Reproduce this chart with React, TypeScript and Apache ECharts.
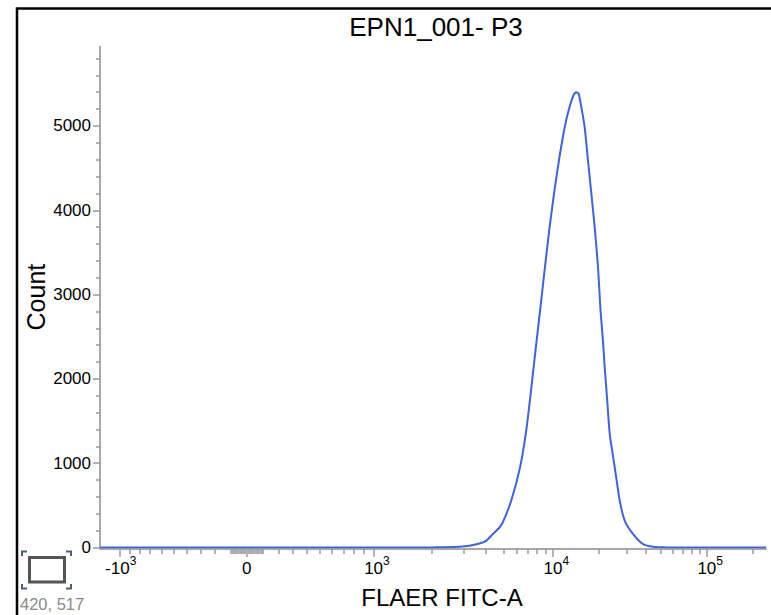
import React, { useEffect, useRef } from 'react';
import * as echarts from 'echarts';

// ---- chart texts ----
const titleText = 'EPN1_001- P3';
const xAxisName = 'FLAER FITC-A';
const yAxisName = 'Count';
const cursorText = '420, 517';

// ---- biexponential display scale (value -> display units) ----
const scaleKnotValues = [0, 200, 300, 400, 500, 600, 700, 800, 900, 1000, 2000, 5000, 10000, 100000];
const scaleKnotUnits = [0, 0.2534, 0.366, 0.474, 0.576, 0.672, 0.763, 0.848, 0.927, 1, 1.4624, 2.027, 2.4173, 3.6318];

// ---- axis ticks ----
const xMajorTicks = [-1000, 0, 1000, 10000, 100000];
const xMajorLabels = ['-10^3', '0', '10^3', '10^4', '10^5'];
const xMinorTicks = [
  -900, -800, -700, -600, -500, -400, -300, -200,
  -100, -90, -80, -70, -60, -50, -40, -30, -20, -10, 10, 20, 30, 40, 50, 60, 70, 80, 90, 100,
  200, 300, 400, 500, 600, 700, 800, 900,
  2000, 3000, 4000, 5000, 6000, 7000, 8000, 9000,
  20000, 30000, 40000, 50000, 60000, 70000, 80000, 90000, 200000,
];
const xRange = [-1270, 243000];
const yMajorTicks = [0, 1000, 2000, 3000, 4000, 5000];
const yMinorTicks = [200, 400, 600, 800, 1200, 1400, 1600, 1800, 2200, 2400, 2600, 2800, 3200, 3400, 3600, 3800, 4200, 4400, 4600, 4800, 5200, 5400, 5600, 5800];
const yMax = 5940;

// ---- histogram ----
const fluorescence = [-1270, -1000, -600, -200, 0, 200, 600, 1000, 1500, 2000, 2197, 2840, 3230, 3673, 4000, 4357, 4749, 4955, 5570, 6305, 6831, 7238, 7625, 8041, 8482, 8937, 9546, 10228, 11024, 11919, 12850, 13646, 14168, 14710, 15388, 16097, 16912, 17796, 18700, 19654, 20370, 20990, 21727, 22560, 23420, 25250, 27210, 29340, 33230, 38610, 44860, 53480, 70000, 100000, 150000, 243000];
const counts = [0, 0, 0, 0, 0, 0, 0, 0, 0, 1, 3, 10, 20, 47, 79, 159, 237, 297, 554, 949, 1345, 1740, 2135, 2531, 2926, 3321, 3796, 4231, 4626, 4982, 5230, 5370, 5400, 5380, 5200, 4982, 4587, 4192, 3796, 3321, 2828, 2531, 2135, 1740, 1345, 949, 554, 317, 159, 40, 8, 2, 0, 0, 0, 0];

function toDisplay(v: number): number {
  const s = v < 0 ? -1 : 1;
  const a = Math.abs(v);
  const kv = scaleKnotValues;
  const ku = scaleKnotUnits;
  const n = kv.length;
  let i = 0;
  while (i < n - 2 && a > kv[i + 1]) i++;
  const v0 = kv[i], v1 = kv[i + 1], u0 = ku[i], u1 = ku[i + 1];
  let f: number;
  if (v0 >= 1000) f = (Math.log10(a) - Math.log10(v0)) / (Math.log10(v1) - Math.log10(v0));
  else f = (a - v0) / (v1 - v0);
  return s * (u0 + f * (u1 - u0));
}

const FONT = '"Liberation Sans", Arial, Helvetica, sans-serif';
const AXIS_GRAY = '#a8a8a8';
const TICK_GRAY = '#9a9a9a';

function buildOption() {
  const majorT = xMajorTicks.map(toDisplay);
  const labelFor = (val: number) => {
    let best = 0;
    let bd = Infinity;
    majorT.forEach((t, i) => {
      const d = Math.abs(t - val);
      if (d < bd) { bd = d; best = i; }
    });
    const lab = xMajorLabels[best];
    if (lab.indexOf('^') < 0) return `{z|${lab}}`;
    const [base, exp] = lab.split('^');
    if (base.startsWith('-')) return `{n|${base}}{s|${exp}}`;
    return `{b|${base}}{s|${exp}}`;
  };
  const xMin = toDisplay(xRange[0]);
  const xMax = toDisplay(xRange[1]);
  const data = fluorescence.map((v, i) => [toDisplay(v), counts[i]]);

  return {
    animation: false,
    backgroundColor: '#ffffff',
    textStyle: { fontFamily: FONT },
    grid: { left: 100, right: 5, top: 46.7, bottom: 67.5, containLabel: false },
    xAxis: [
      {
        type: 'value',
        min: xMin,
        max: xMax,
        position: 'bottom',
        offset: 1.5,
        name: xAxisName,
        nameLocation: 'middle',
        nameGap: 36,
        nameTextStyle: { fontSize: 24, color: '#000', fontFamily: FONT, padding: [0, 0, 0, 18] },
        axisLine: { show: true, onZero: false, lineStyle: { color: AXIS_GRAY, width: 2 } },
        axisTick: { show: true, inside: false, length: 8, customValues: majorT, lineStyle: { color: TICK_GRAY, width: 1.5 } },
        axisLabel: {
          show: true,
          customValues: majorT,
          margin: 6,
          color: '#000',
          formatter: (val: number) => labelFor(val),
          rich: {
            b: { fontSize: 17, lineHeight: 22, verticalAlign: 'bottom', padding: [0, 0, 0, 7], color: '#000', fontFamily: FONT },
            n: { fontSize: 17, lineHeight: 22, verticalAlign: 'bottom', padding: [0, 0, 0, 1], color: '#000', fontFamily: FONT },
            z: { fontSize: 17, lineHeight: 22, verticalAlign: 'bottom', color: '#000', fontFamily: FONT },
            s: { fontSize: 12, lineHeight: 12, verticalAlign: 'top', color: '#000', fontFamily: FONT },
          },
        },
        splitLine: { show: false },
      },
      {
        type: 'value',
        min: xMin,
        max: xMax,
        position: 'bottom',
        offset: 1.5,
        axisLine: { show: false, onZero: false },
        axisTick: { show: true, inside: false, length: 5, customValues: xMinorTicks.map(toDisplay), lineStyle: { color: TICK_GRAY, width: 1.5 } },
        axisLabel: { show: false },
        splitLine: { show: false },
      },
    ],
    yAxis: [
      {
        type: 'value',
        min: 0,
        max: yMax,
        position: 'left',
        name: yAxisName,
        nameLocation: 'middle',
        nameGap: 52,
        nameMoveOverlap: false,
        nameTextStyle: { fontSize: 25, color: '#000', fontFamily: FONT },
        axisLine: { show: true, onZero: false, lineStyle: { color: AXIS_GRAY, width: 2 } },
        axisTick: { show: true, length: 7, customValues: yMajorTicks, lineStyle: { color: TICK_GRAY, width: 1.5 } },
        axisLabel: {
          show: true,
          customValues: yMajorTicks,
          margin: 9,
          fontSize: 17,
          color: '#000',
          fontFamily: FONT,
          formatter: (v: number) => String(Math.round(v)),
        },
        splitLine: { show: false },
      },
      {
        type: 'value',
        min: 0,
        max: yMax,
        position: 'left',
        axisLine: { show: false, onZero: false },
        axisTick: { show: true, length: 4, customValues: yMinorTicks, lineStyle: { color: TICK_GRAY, width: 1.5 } },
        axisLabel: { show: false },
        splitLine: { show: false },
      },
    ],
    series: [
      {
        type: 'line',
        xAxisIndex: 0,
        yAxisIndex: 0,
        data,
        smooth: 0.2,
        showSymbol: false,
        symbol: 'none',
        lineStyle: { color: '#3d63e0', width: 2 },
        itemStyle: { color: '#3d63e0' },
      },
    ],
    graphic: [
      {
        type: 'rect',
        silent: true,
        shape: { x: 17, y: 8.5, width: 1000, height: 1000 },
        style: { fill: 'none', stroke: '#000', lineWidth: 2.5 },
      },
      {
        type: 'text',
        silent: true,
        style: { text: titleText, x: 436, y: 27, align: 'center', verticalAlign: 'middle', fontSize: 26, fontFamily: FONT, fill: '#000' },
      },
      {
        type: 'rect',
        silent: true,
        shape: { x: 29.5, y: 557.5, width: 35, height: 24.5 },
        style: { fill: '#fff', stroke: '#555', lineWidth: 3 },
      },
      { type: 'polyline', silent: true, shape: { points: [[22, 556], [22, 551.5], [27, 551.5]] }, style: { stroke: '#4f5e73', lineWidth: 2, fill: 'none' } },
      { type: 'polyline', silent: true, shape: { points: [[66, 551.5], [71, 551.5], [71, 556]] }, style: { stroke: '#4f5e73', lineWidth: 2, fill: 'none' } },
      { type: 'polyline', silent: true, shape: { points: [[22, 584], [22, 588.5], [27, 588.5]] }, style: { stroke: '#4f5e73', lineWidth: 2, fill: 'none' } },
      { type: 'polyline', silent: true, shape: { points: [[66, 588.5], [71, 588.5], [71, 584]] }, style: { stroke: '#4f5e73', lineWidth: 2, fill: 'none' } },
      {
        type: 'text',
        silent: true,
        style: { text: cursorText, x: 20, y: 603.5, align: 'left', verticalAlign: 'middle', fontSize: 16.5, fontFamily: FONT, fill: '#8a8a8a' },
      },
    ],
  };
}

export default function App() {
  const ref = useRef<HTMLDivElement>(null);
  useEffect(() => {
    if (!ref.current) return;
    const chart = echarts.init(ref.current, null, { renderer: 'svg' });
    chart.setOption(buildOption() as any);
    return () => chart.dispose();
  }, []);
  return (
    <div
      ref={ref}
      style={{ position: 'fixed', left: 0, top: 0, width: 771, height: 615, overflow: 'hidden', background: '#fff' }}
    />
  );
}
